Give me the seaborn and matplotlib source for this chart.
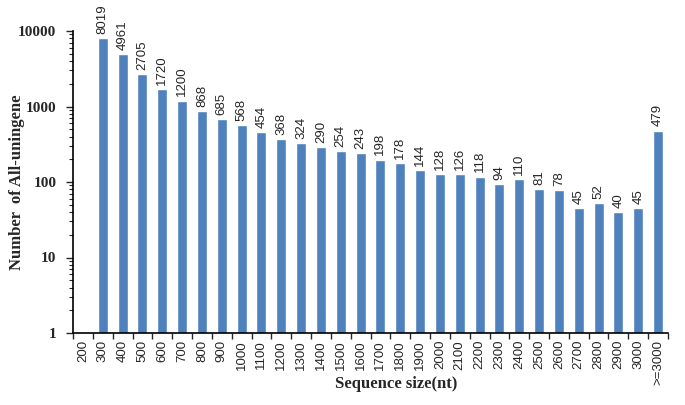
import numpy as np
import pandas as pd
import matplotlib
matplotlib.use("Agg")
import matplotlib.pyplot as plt
import seaborn as sns
from matplotlib.ticker import FixedLocator, LogLocator, NullFormatter, FixedFormatter

categories = ["200", "300", "400", "500", "600", "700", "800", "900", "1000", "1100",
              "1200", "1300", "1400", "1500", "1600", "1700", "1800", "1900", "2000", "2100",
              "2200", "2300", "2400", "2500", "2600", "2700", "2800", "2900", "3000", ">=3000"]
counts = [np.nan, 8019, 4961, 2705, 1720, 1200, 868, 685, 568, 454,
          368, 324, 290, 254, 243, 198, 178, 144, 128, 126,
          118, 94, 110, 81, 78, 45, 52, 40, 45, 479]
ytick_values = [1, 10, 100, 1000, 10000]
ytick_labels = ["1", "10", "100", "1000", "10000"]

df = pd.DataFrame({"size": categories, "count": counts})

sns.set_style("white")
serif = ["Liberation Serif", "DejaVu Serif"]
sans = ["Liberation Sans", "DejaVu Sans"]

fig = plt.figure(figsize=(6.85, 4.05), dpi=100)
ax = fig.add_axes([73/685, 1 - 333/405, 595/685, 302/405])
ax.set_yscale("log")

sns.barplot(data=df, x="size", y="count", color="#4F81BD", width=0.5,
            saturation=1, ax=ax, order=categories)

ax.set_ylim(1, 10000)
ax.set_xlim(-0.5, len(categories) - 0.5)

ax.yaxis.set_major_locator(FixedLocator(ytick_values))
ax.yaxis.set_major_formatter(FixedFormatter(ytick_labels))
ax.yaxis.set_minor_locator(LogLocator(base=10, subs=np.arange(2, 10)))
ax.yaxis.set_minor_formatter(NullFormatter())

for lab in ax.get_yticklabels():
    lab.set_fontfamily(serif)
    lab.set_fontweight("bold")
    lab.set_fontsize(11)

ax.tick_params(axis="y", which="major", direction="out", length=5, width=1, pad=7, left=True)
ax.tick_params(axis="y", which="minor", direction="out", length=3, width=0.8, left=True)

# x ticks: labels at centers, tick marks at boundaries
ax.set_xticks(range(len(categories)))
ax.set_xticklabels(categories, rotation=90, fontfamily=sans, fontsize=9.5)
ax.set_xticks(np.arange(-0.5, len(categories), 1), minor=True)
ax.tick_params(axis="x", which="major", length=0, pad=5)
ax.tick_params(axis="x", which="minor", direction="out", length=4, width=1, bottom=True)

for s in ["top", "right"]:
    ax.spines[s].set_visible(False)
for s in ["left", "bottom"]:
    ax.spines[s].set_color("black")
    ax.spines[s].set_linewidth(1.2)

# value labels
for cont in ax.containers:
    labels = ["" if np.isnan(v) else f"{int(round(v))}" for v in cont.datavalues]
    ax.bar_label(cont, labels=labels, rotation=90, padding=3, fontsize=9.5,
                 fontfamily=sans, clip_on=False)

ax.set_xlabel("Sequence size(nt)", fontfamily=serif, fontweight="bold", fontsize=12)
ax.set_ylabel("Number  of All-uningene", fontfamily=serif, fontweight="bold", fontsize=12)
ax.xaxis.set_label_coords((396 - 73) / 595, -(376 - 333) / 302)
ax.yaxis.set_label_coords(-(73 - 25) / 595, 0.5)

fig.savefig("out.png", dpi=100)
